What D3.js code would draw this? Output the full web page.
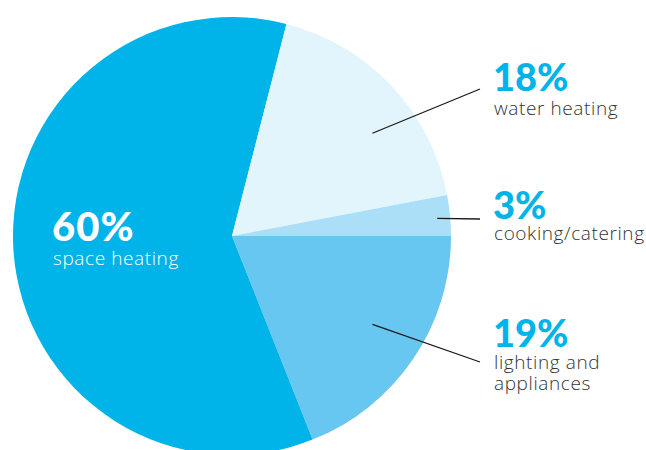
<!DOCTYPE html>
<html>
<head>
<meta charset="utf-8">
<script src="https://cdn.jsdelivr.net/npm/d3@7"></script>
<style>
  html, body { margin: 0; padding: 0; background: #fff; }
  svg { display: block; }
  .pct { font-family: Lato, "Open Sans", sans-serif; font-weight: 900; }
  .name { font-family: "Open Sans", Lato, sans-serif; font-weight: 300; }
</style>
</head>
<body>
<svg id="chart" width="646" height="450"></svg>
<script>
// Energy use shares, in drawing order (clockwise from 3 o'clock)
const categories = ["lighting and appliances", "space heating", "water heating", "cooking/catering"];
const values = [19, 60, 18, 3];
const percentLabels = ["19%", "60%", "18%", "3%"];
const nameLines = [["lighting and", "appliances"], ["space heating"], ["water heating"], ["cooking/catering"]];
const colors = ["#68c7f0", "#00b4ea", "#e2f4fc", "#aadff7"];

const width = 646, height = 450;
const cx = 232, cy = 236, radius = 219;

const svg = d3.select("#chart");
const g = svg.append("g").attr("transform", `translate(${cx},${cy})`);

const pie = d3.pie()
  .sort(null)
  .value(d => d)
  .startAngle(Math.PI / 2)
  .endAngle(Math.PI / 2 + 2 * Math.PI);

const arcs = pie(values);
const arc = d3.arc().innerRadius(0).outerRadius(radius);

g.selectAll("path.slice")
  .data(arcs)
  .join("path")
  .attr("class", "slice")
  .attr("d", arc)
  .attr("fill", (d, i) => colors[i]);

// Leader lines from inside a slice out to its label on the right
const leaders = [
  { i: 0, r: 166, da: -2, x2: 480, y2: 362 },
  { i: 2, r: 174, da: 7, x2: 480, y2: 89 },
  { i: 3, r: 206, da: 0.5, x2: 480, y2: 219 }
];
leaders.forEach(l => {
  const a = arcs[l.i];
  const ang = (a.startAngle + a.endAngle) / 2 + l.da * Math.PI / 180;
  const x1 = cx + l.r * Math.sin(ang);
  const y1 = cy - l.r * Math.cos(ang);
  svg.append("line")
    .attr("x1", x1).attr("y1", y1)
    .attr("x2", l.x2).attr("y2", l.y2)
    .attr("stroke", "#1a1a1a")
    .attr("stroke-width", 1.3);
});

// Labels: big percentage plus a lighter category name
const labelPos = [
  { i: 0, x: 493, y: 347, size: 38, ls: 0, fill: "#00b4ea", text: "#333", gap: 22 },
  { i: 1, x: 52, y: 241, size: 40, ls: 1, fill: "#ffffff", text: "#ffffff", gap: 24 },
  { i: 2, x: 493, y: 91, size: 38, ls: 0, fill: "#00b4ea", text: "#333", gap: 24 },
  { i: 3, x: 493, y: 219, size: 38, ls: 0, fill: "#00b4ea", text: "#333", gap: 21 }
];
labelPos.forEach(p => {
  const t = svg.append("g");
  t.append("text")
    .attr("class", "pct")
    .attr("x", p.x).attr("y", p.y)
    .attr("font-size", p.size)
    .attr("letter-spacing", p.ls)
    .attr("fill", p.fill)
    .text(percentLabels[p.i]);
  nameLines[p.i].forEach((line, k) => {
    t.append("text")
      .attr("class", "name")
      .attr("x", p.x + 1).attr("y", p.y + p.gap + k * 21)
      .attr("font-size", 19)
      .attr("letter-spacing", 0.6)
      .attr("fill", p.text)
      .text(line);
  });
});
</script>
</body>
</html>
